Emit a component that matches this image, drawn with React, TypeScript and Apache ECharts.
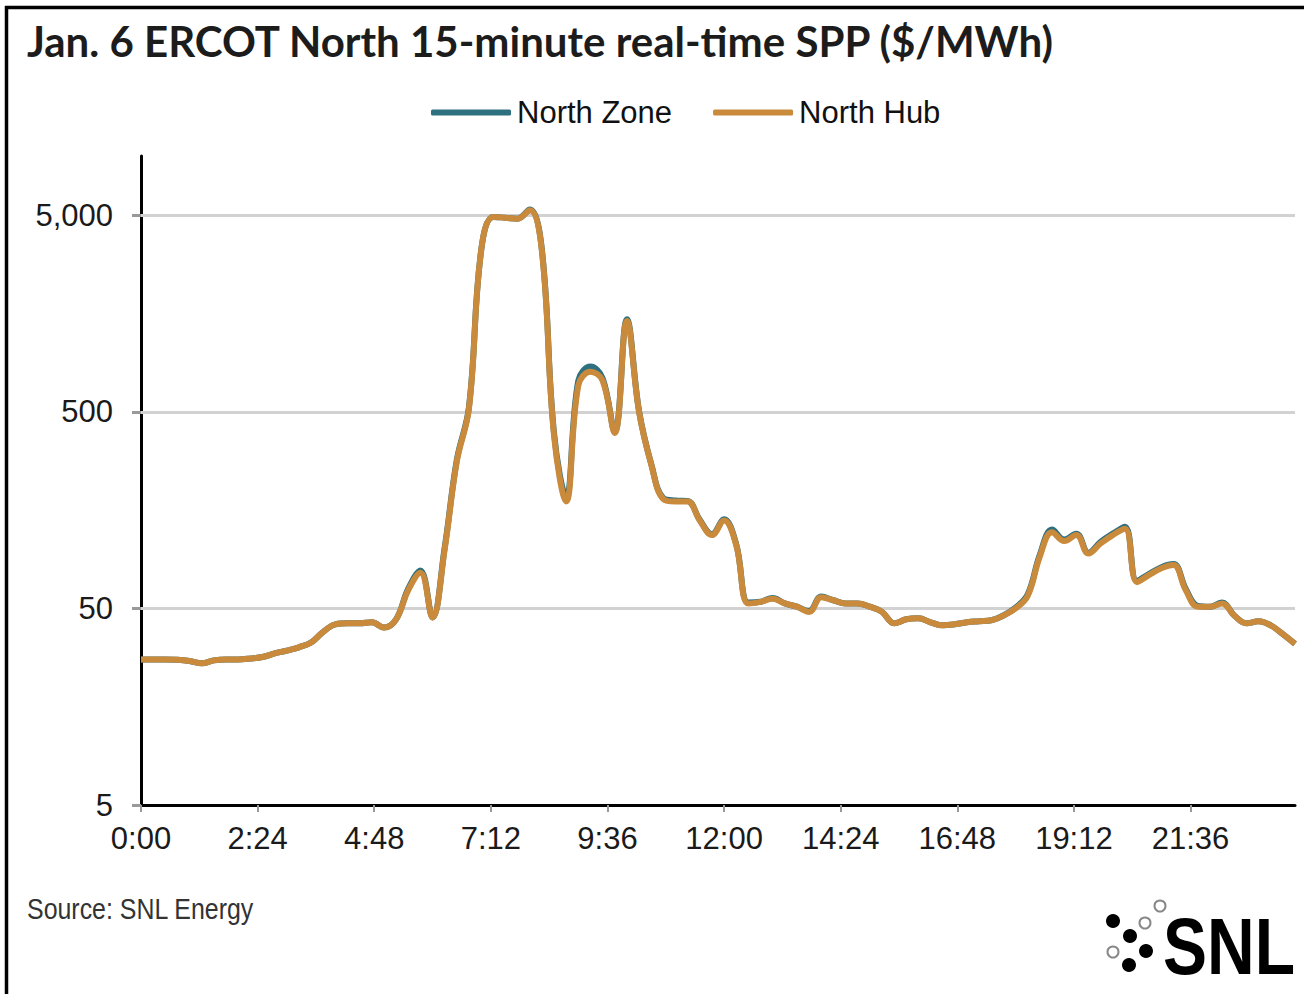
import React, { useEffect, useRef } from "react";
import * as echarts from "echarts";

const titleText = "Jan. 6 ERCOT North 15-minute real-time SPP ($/MWh)";
const seriesNames = ["North Zone", "North Hub"];
const sourceText = "Source: SNL Energy";

// 15-minute intervals, 0:00 .. 23:45 ($/MWh)
const northHub = [
  27.5, 27.5, 27.5, 27.4, 27.0, 26.3, 27.2, 27.5, 27.5, 27.8,
  28.3, 29.5, 30.5, 31.7, 33.5, 38.0, 41.5, 42.0, 42.0, 42.5,
  40.0, 44.0, 62.0, 76.0, 45.0, 100, 280, 520, 3300, 4900,
  4850, 4800, 5300, 3300, 380, 175, 680, 800, 720, 390,
  1450, 500, 270, 180, 175, 175, 140, 118, 140, 105,
  53, 54, 56, 53, 51, 48, 57, 55, 53, 53,
  51, 48, 42, 44, 44.5, 42.5, 41, 41.5, 42.5, 43,
  43.5, 46, 50, 58, 92, 122, 110, 118, 95, 107,
  118, 127, 68, 74, 80, 83, 62, 51, 51, 53,
  46, 42, 43, 41, 37, 33,
];
const northZone = [
  27.5, 27.5, 27.5, 27.4, 27.0, 26.3, 27.2, 27.5, 27.5, 27.8,
  28.3, 29.5, 30.5, 31.7, 33.5, 38.0, 41.5, 42.0, 42.0, 42.5,
  40.0, 44.0, 63.0, 78.0, 45.0, 102, 285, 530, 3300, 4900,
  4850, 4800, 5350, 3350, 390, 185, 720, 850, 740, 395,
  1480, 505, 272, 182, 177, 176, 141, 119, 142, 106,
  53.5, 54, 56.5, 53, 51, 48.5, 57.5, 55, 53, 53,
  51, 48, 42, 44, 44.5, 42.5, 41, 41.5, 42.5, 43,
  43.5, 46, 50.5, 59, 94, 126, 112, 120, 96, 109,
  120, 130, 69, 75, 81, 84, 63, 51.5, 51, 53.5,
  46, 42, 43, 41, 37, 33,
];
const xTickMinutes = [0, 144, 288, 432, 576, 720, 864, 1008, 1152, 1296];
const yTickValues = [5, 50, 500, 5000];
const gridValues = [50, 500, 5000];

const minutes = northHub.map((_, i) => i * 15);

function fmtTime(v: number) {
  const h = Math.floor(v / 60);
  const m = Math.round(v - h * 60);
  return `${h}:${String(m).padStart(2, "0")}`;
}

export default function App() {
  const ref = useRef<HTMLDivElement>(null);
  useEffect(() => {
    document.body.style.margin = "0";
    const chart = echarts.init(ref.current!, null, { renderer: "svg" });
    const axisFont = "'Liberation Sans', Arial, sans-serif";
    chart.setOption({
      animation: false,
      backgroundColor: "#ffffff",
      grid: { left: 141, right: 9, top: 156, bottom: 189, containLabel: false },
      legend: {
        data: seriesNames,
        left: 426,
        top: 92,
        itemWidth: 80,
        itemHeight: 6,
        itemGap: 41,
        icon: "roundRect",
        textStyle: { fontSize: 31, color: "#111", fontFamily: axisFont, padding: [0, 0, 0, 1] },
      },
      xAxis: {
        type: "value",
        min: 0,
        max: 1425,
        axisLine: { show: true, onZero: false, lineStyle: { color: "#000", width: 3 } },
        axisTick: {
          show: true,
          customValues: xTickMinutes,
          length: 7,
          lineStyle: { color: "#999", width: 2 },
        },
        axisLabel: {
          customValues: xTickMinutes,
          formatter: (v: number) => fmtTime(v),
          fontSize: 31,
          color: "#1a1a1a",
          fontFamily: axisFont,
          margin: 18,
        },
        splitLine: { show: false },
      },
      yAxis: {
        type: "log",
        logBase: 10,
        min: 5,
        max: 10000,
        axisLine: { show: true, onZero: false, lineStyle: { color: "#000", width: 3 } },
        axisTick: {
          show: true,
          customValues: yTickValues,
          length: 9,
          lineStyle: { color: "#999", width: 3 },
        },
        axisLabel: {
          customValues: yTickValues,
          formatter: (v: number) => Math.round(v).toLocaleString("en-US"),
          fontSize: 31,
          color: "#1a1a1a",
          fontFamily: axisFont,
          margin: 28,
        },
        splitLine: { show: false },
      },
      series: [
        {
          name: seriesNames[0],
          type: "line",
          data: minutes.map((t, i) => [t, northZone[i]]),
          symbol: "none",
          smooth: 0.4,
          lineStyle: { color: "#2F7080", width: 6 },
          itemStyle: { color: "#2F7080" },
          z: 3,
          markLine: {
            silent: true,
            symbol: "none",
            z: 1,
            label: { show: false },
            lineStyle: { color: "#d2d2d2", width: 3, type: "solid" },
            data: gridValues.map((v) => ({ yAxis: v })),
          },
        },
        {
          name: seriesNames[1],
          type: "line",
          data: minutes.map((t, i) => [t, northHub[i]]),
          symbol: "none",
          smooth: 0.4,
          lineStyle: { color: "#C98A3C", width: 6 },
          itemStyle: { color: "#C98A3C" },
          z: 4,
        },
      ],
      graphic: [
        { type: "line", shape: { x1: 5, y1: 7.5, x2: 1304, y2: 7.5 }, style: { stroke: "#000", lineWidth: 3.5 } },
        { type: "line", shape: { x1: 6.5, y1: 6, x2: 6.5, y2: 994 }, style: { stroke: "#000", lineWidth: 3.5 } },
        {
          type: "text",
          x: 27,
          y: 41,
          style: {
            text: titleText,
            fontSize: 42,
            fontWeight: "bold",
            fontFamily: "Lato, 'Open Sans', sans-serif",
            fill: "#1c1c1c",
            verticalAlign: "middle",
          },
        },
        {
          type: "text",
          x: 27,
          y: 909,
          scaleX: 0.86,
          style: {
            text: sourceText,
            fontSize: 29,
            fontFamily: axisFont,
            fill: "#333",
            verticalAlign: "middle",
          },
        },
        {
          type: "text",
          x: 1163,
          y: 946,
          scaleY: 1.2,
          style: {
            text: "SNL",
            fontSize: 66,
            fontWeight: "bold",
            fontFamily: axisFont,
            fill: "#000",
            verticalAlign: "middle",
          },
        },
        { type: "circle", shape: { cx: 1113, cy: 921, r: 7 }, style: { fill: "#000" } },
        { type: "circle", shape: { cx: 1130, cy: 936, r: 7 }, style: { fill: "#000" } },
        { type: "circle", shape: { cx: 1146, cy: 951, r: 7 }, style: { fill: "#000" } },
        { type: "circle", shape: { cx: 1129, cy: 965, r: 7 }, style: { fill: "#000" } },
        { type: "circle", shape: { cx: 1145, cy: 923, r: 5.5 }, style: { fill: "none", stroke: "#888", lineWidth: 2 } },
        { type: "circle", shape: { cx: 1160, cy: 906, r: 5.5 }, style: { fill: "none", stroke: "#888", lineWidth: 2 } },
        { type: "circle", shape: { cx: 1113, cy: 952, r: 5.5 }, style: { fill: "none", stroke: "#888", lineWidth: 2 } },
      ],
    });
    return () => chart.dispose();
  }, []);
  return <div ref={ref} style={{ width: 1304, height: 994 }} />;
}
